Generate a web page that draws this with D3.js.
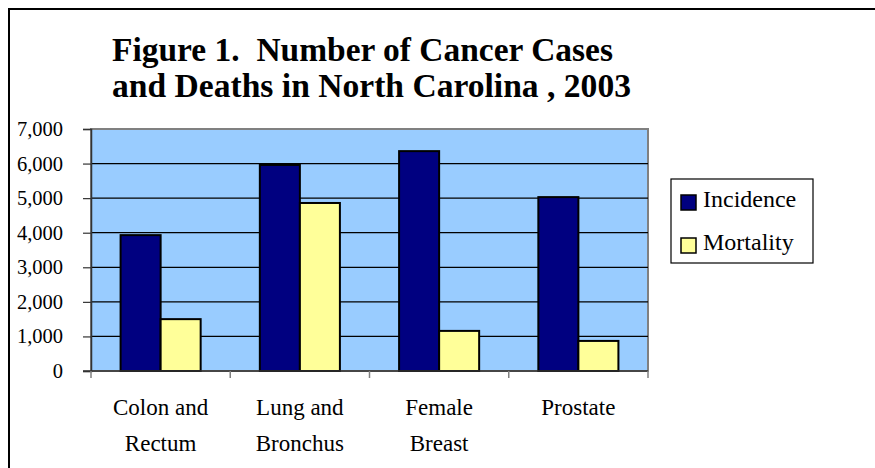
<!DOCTYPE html>
<html>
<head>
<meta charset="utf-8">
<script src="https://cdn.jsdelivr.net/npm/d3@7"></script>
<style>
  body { margin: 0; background: #fff; }
  svg { display: block; }
</style>
</head>
<body>
<div id="chart"></div>
<script>
// chart values
var categories = ["Colon and Rectum", "Lung and Bronchus", "Female Breast", "Prostate"];
var categoryLines = [["Colon and", "Rectum"], ["Lung and", "Bronchus"], ["Female", "Breast"], ["Prostate"]];
var seriesNames = ["Incidence", "Mortality"];
var incidence = [3930, 5960, 6360, 5030];
var mortality = [1500, 4860, 1160, 870];
var yTicks = [0, 1000, 2000, 3000, 4000, 5000, 6000, 7000];
var titleLines = ["Figure 1.  Number of Cancer Cases", "and Deaths in North Carolina , 2003"];

var colors = {Incidence: "#000080", Mortality: "#ffff99"};

var width = 875, height = 468;
var plot = {left: 91, right: 648, top: 129, bottom: 371};
var serif = "Liberation Serif, Times New Roman, serif";

var svg = d3.select("#chart")
    .append("svg")
    .attr("width", width)
    .attr("height", height);

// outer chart border (only top and left fall inside the picture)
svg.append("rect")
    .attr("x", 9).attr("y", 9)
    .attr("width", 900).attr("height", 500)
    .attr("fill", "none")
    .attr("stroke", "#000")
    .attr("stroke-width", 2);

// title
var title = svg.append("g")
    .attr("font-family", serif)
    .attr("font-weight", "bold")
    .attr("font-size", 33)
    .attr("fill", "#000");
title.append("text").attr("x", 112).attr("y", 61)
    .attr("textLength", 501).attr("lengthAdjust", "spacingAndGlyphs")
    .style("white-space", "pre")
    .text(titleLines[0]);
title.append("text").attr("x", 112).attr("y", 97)
    .attr("textLength", 519).attr("lengthAdjust", "spacingAndGlyphs")
    .text(titleLines[1]);

var x = d3.scaleBand()
    .domain(categories)
    .range([plot.left, plot.right])
    .paddingInner(0.425)
    .paddingOuter(0.2125);

var xSeries = d3.scaleBand()
    .domain(seriesNames)
    .range([0, x.bandwidth()]);

var y = d3.scaleLinear()
    .domain([0, 7000])
    .range([plot.bottom, plot.top]);

// plot area
svg.append("rect")
    .attr("x", plot.left).attr("y", plot.top)
    .attr("width", plot.right - plot.left)
    .attr("height", plot.bottom - plot.top)
    .attr("fill", "#99ccff")
    .attr("stroke", "#808080")
    .attr("stroke-width", 2);

// gridlines
svg.append("g")
    .selectAll("line")
    .data(yTicks.filter(d => d > 0 && d < 7000))
    .join("line")
    .attr("x1", plot.left).attr("x2", plot.right)
    .attr("y1", d => y(d)).attr("y2", d => y(d))
    .attr("stroke", "#000")
    .attr("stroke-width", 1.2);

// y axis
var yAxis = svg.append("g")
    .attr("transform", `translate(${plot.left},0)`)
    .call(d3.axisLeft(y).tickValues(yTicks).tickSize(8).tickPadding(20).tickFormat(d3.format(",")));
yAxis.select(".domain").attr("stroke", "#333").attr("stroke-width", 1.5);
yAxis.selectAll(".tick line").attr("stroke", "#333").attr("stroke-width", 1.2);
yAxis.selectAll("text")
    .attr("font-family", serif)
    .attr("font-size", 20.5)
    .attr("fill", "#000");

// bars
var rows = categories.map((c, i) => ({category: c, values: [
    {name: "Incidence", value: incidence[i]},
    {name: "Mortality", value: mortality[i]}
]}));

svg.append("g")
    .selectAll("g")
    .data(rows)
    .join("g")
    .attr("transform", d => `translate(${x(d.category)},0)`)
    .selectAll("rect")
    .data(d => d.values)
    .join("rect")
    .attr("x", d => xSeries(d.name))
    .attr("y", d => y(d.value))
    .attr("width", xSeries.bandwidth())
    .attr("height", d => y(0) - y(d.value))
    .attr("fill", d => colors[d.name])
    .attr("stroke", "#000")
    .attr("stroke-width", 2);

// x axis line and boundary ticks
var xAxis = svg.append("g");
xAxis.append("line")
    .attr("x1", plot.left - 8).attr("x2", plot.right)
    .attr("y1", y(0)).attr("y2", y(0))
    .attr("stroke", "#333").attr("stroke-width", 1.5);
xAxis.selectAll("line.tick")
    .data(d3.range(categories.length + 1))
    .join("line")
    .attr("class", "tick")
    .attr("x1", i => x.range()[0] + i * x.step())
    .attr("x2", i => x.range()[0] + i * x.step())
    .attr("y1", y(0)).attr("y2", y(0) + 7)
    .attr("stroke", "#808080").attr("stroke-width", 1.5);

// category labels
svg.append("g")
    .selectAll("text")
    .data(categories)
    .join("text")
    .attr("text-anchor", "middle")
    .attr("font-family", serif)
    .attr("font-size", 23)
    .attr("fill", "#000")
    .each(function(d, i) {
        var t = d3.select(this);
        categoryLines[i].forEach((line, j) => {
            t.append("tspan")
                .attr("x", x(d) + x.bandwidth() / 2)
                .attr("y", 415 + j * 36)
                .text(line);
        });
    });

// legend
var legend = svg.append("g");
legend.append("rect")
    .attr("x", 671).attr("y", 179)
    .attr("width", 142).attr("height", 84)
    .attr("fill", "#fff")
    .attr("stroke", "#000")
    .attr("stroke-width", 1.2);
var items = legend.selectAll("g.item")
    .data(seriesNames)
    .join("g")
    .attr("class", "item")
    .attr("transform", (d, i) => `translate(681,${195 + i * 43})`);
items.append("rect")
    .attr("width", 15).attr("height", 15)
    .attr("fill", d => colors[d])
    .attr("stroke", "#000")
    .attr("stroke-width", 1.5);
items.append("text")
    .attr("x", 22).attr("y", 12)
    .attr("font-family", serif)
    .attr("font-size", 24)
    .attr("fill", "#000")
    .text(d => d);
</script>
</body>
</html>
